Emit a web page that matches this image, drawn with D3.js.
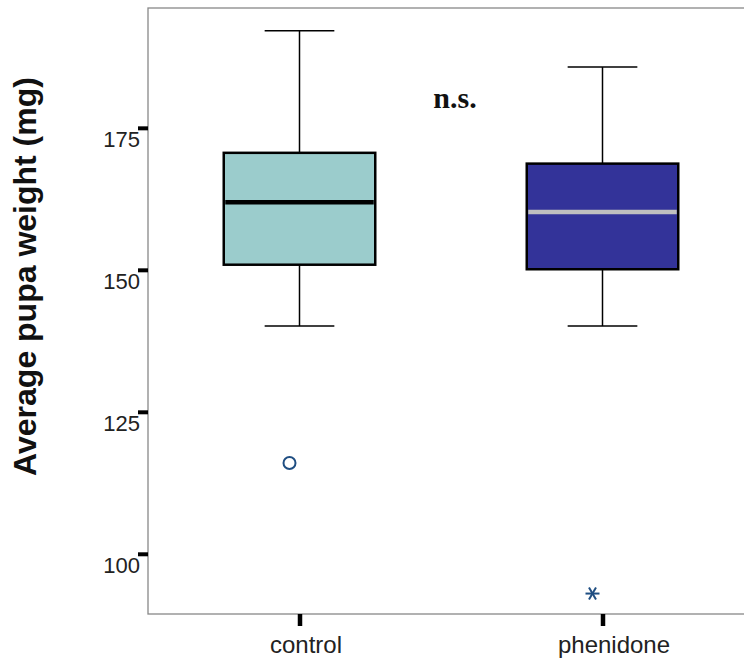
<!DOCTYPE html>
<html>
<head>
<meta charset="utf-8">
<script src="https://cdn.jsdelivr.net/npm/d3@7"></script>
<style>
  html, body { margin: 0; padding: 0; background: #fff; }
  svg { display: block; }
</style>
</head>
<body>
<svg id="chart" width="744" height="661"></svg>
<script>
// Box-plot summaries of average pupa weight (mg) per treatment group
const categories   = ["control", "phenidone"];
const whiskerLow   = [140.1, 140.1];
const q1           = [150.9, 150.1];
const median       = [161.9, 160.2];
const q3           = [170.6, 168.7];
const whiskerHigh  = [192.1, 185.7];
// outliers: "o" = mild outlier, "*" = extreme value
const outlierGroup = ["control", "phenidone"];
const outlierValue = [116.0, 93.0];
const outlierKind  = ["o", "*"];
const yTicks       = [100, 125, 150, 175];
const boxFill      = ["#9bcccc", "#333399"];
const medianColor  = ["#000000", "#c0c0c0"];

const svg = d3.select("#chart");

const plot = { left: 148, right: 754, top: 8, bottom: 614 };

const y = d3.scaleLinear().domain([89.4, 196.1]).range([plot.bottom, plot.top]);
const x = d3.scalePoint().domain(categories).range([plot.left, plot.right]).padding(0.5);
const step = x.step();
const boxW = step * 0.5;
const capW = step * 0.23;

// frame
svg.append("rect")
  .attr("x", plot.left).attr("y", plot.top)
  .attr("width", plot.right - plot.left).attr("height", plot.bottom - plot.top)
  .attr("fill", "none").attr("stroke", "#888").attr("stroke-width", 1.3);

// y axis: ticks sit outside the frame, labels hang slightly below each tick
const yAxis = d3.axisLeft(y).tickValues(yTicks).tickSize(10).tickPadding(0);
const gy = svg.append("g").attr("transform", `translate(${plot.left},0)`).call(yAxis);
gy.select(".domain").remove();
gy.selectAll(".tick line").attr("stroke", "#000").attr("stroke-width", 4);
gy.selectAll(".tick text")
  .attr("x", -8).attr("dy", "0.85em")
  .attr("font-family", "Arial, 'Liberation Sans', sans-serif")
  .attr("font-size", 22).attr("fill", "#222");

// x axis; category labels sit a little right of their ticks
const labelShift = { control: 6, phenidone: 11 };
const xAxis = d3.axisBottom(x).tickSize(12).tickPadding(10);
const gx = svg.append("g").attr("transform", `translate(0,${plot.bottom})`).call(xAxis);
gx.select(".domain").remove();
gx.selectAll(".tick line").attr("stroke", "#000").attr("stroke-width", 4.5);
gx.selectAll(".tick text")
  .attr("dx", d => labelShift[d] || 0)
  .attr("font-family", "Arial, 'Liberation Sans', sans-serif")
  .attr("font-size", 24).attr("fill", "#222");

// y title
svg.append("text")
  .attr("transform", `translate(36,${(78 + 475) / 2}) rotate(-90)`)
  .attr("text-anchor", "middle")
  .attr("font-family", "Arial, 'Liberation Sans', sans-serif")
  .attr("font-weight", "bold").attr("font-size", 32).attr("fill", "#111")
  .text("Average pupa weight (mg)");

// boxes
const boxes = categories.map((c, i) => ({
  c, lo: whiskerLow[i], q1: q1[i], med: median[i], q3: q3[i], hi: whiskerHigh[i],
  fill: boxFill[i], medColor: medianColor[i]
}));

const g = svg.append("g");
boxes.forEach(b => {
  const cx = x(b.c);
  // whiskers
  g.append("line").attr("x1", cx).attr("x2", cx).attr("y1", y(b.hi)).attr("y2", y(b.q3))
    .attr("stroke", "#000").attr("stroke-width", 1.5);
  g.append("line").attr("x1", cx).attr("x2", cx).attr("y1", y(b.q1)).attr("y2", y(b.lo))
    .attr("stroke", "#000").attr("stroke-width", 1.5);
  [b.hi, b.lo].forEach(v => {
    g.append("line").attr("x1", cx - capW / 2).attr("x2", cx + capW / 2)
      .attr("y1", y(v)).attr("y2", y(v))
      .attr("stroke", "#000").attr("stroke-width", 1.5);
  });
  // box
  g.append("rect")
    .attr("x", cx - boxW / 2).attr("y", y(b.q3))
    .attr("width", boxW).attr("height", y(b.q1) - y(b.q3))
    .attr("fill", b.fill).attr("stroke", "#000").attr("stroke-width", 2.5);
  // median
  g.append("line").attr("x1", cx - boxW / 2 + 1.5).attr("x2", cx + boxW / 2 - 1.5)
    .attr("y1", y(b.med)).attr("y2", y(b.med))
    .attr("stroke", b.medColor).attr("stroke-width", 4.5);
});

// outliers, drawn slightly left of the group centre
const outColor = "#1f4e82";
outlierValue.forEach((v, i) => {
  const ox = x(outlierGroup[i]) - 10;
  const oy = y(v);
  if (outlierKind[i] === "o") {
    g.append("circle").attr("cx", ox).attr("cy", oy).attr("r", 6)
      .attr("fill", "none").attr("stroke", outColor).attr("stroke-width", 2);
  } else {
    const r = 7;
    [0, 60, 120].forEach(a => {
      const rad = a * Math.PI / 180;
      g.append("line")
        .attr("x1", ox - r * Math.cos(rad)).attr("y1", oy - r * Math.sin(rad))
        .attr("x2", ox + r * Math.cos(rad)).attr("y2", oy + r * Math.sin(rad))
        .attr("stroke", outColor).attr("stroke-width", 2);
    });
  }
});

// significance annotation
svg.append("text")
  .attr("x", 455).attr("y", 108).attr("text-anchor", "middle")
  .attr("font-family", "'Times New Roman', 'Liberation Serif', serif")
  .attr("font-weight", "bold").attr("font-size", 30).attr("fill", "#111")
  .text("n.s.");
</script>
</body>
</html>
